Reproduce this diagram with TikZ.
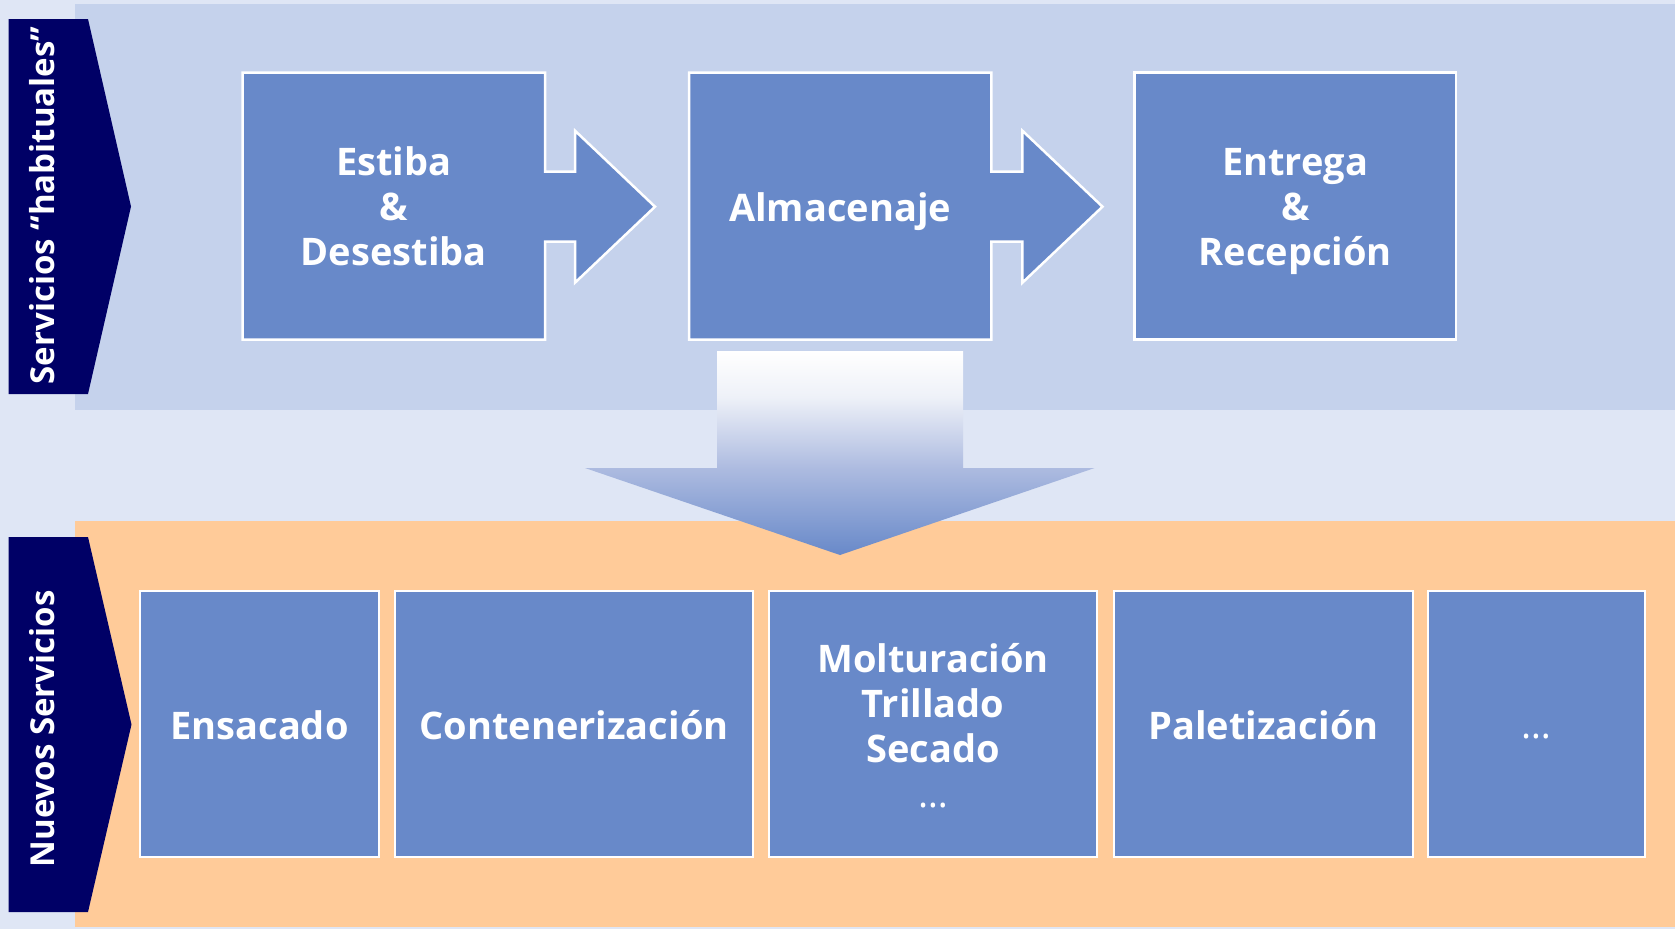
\documentclass[tikz,border=0pt]{standalone}
\usepackage{fontspec}
\setmainfont{Open Sans}
\definecolor{bgc}{RGB}{223,230,245}
\definecolor{bandc}{RGB}{197,210,236}
\definecolor{orangec}{RGB}{255,203,153}
\definecolor{navyc}{RGB}{0,0,102}
\definecolor{boxc}{RGB}{104,137,201}
\definecolor{shA}{RGB}{173,187,224}
\definecolor{shB}{RGB}{238,241,248}
\pgfdeclareverticalshading{downshade}{100bp}{color(0bp)=(boxc); color(25bp)=(boxc); color(46.3bp)=(shA); color(63.7bp)=(shB); color(75bp)=(white); color(100bp)=(white)}
\tikzset{
  boxshape/.style={fill=boxc, draw=white, line width=2.5pt, line join=miter},
  boxnode/.style={rectangle, fill=boxc, draw=white, line width=2.5pt, inner sep=0pt, outer sep=0pt},
  boxtext/.style={text=white, font=\fontsize{38}{45}\selectfont\bfseries, anchor=base, inner sep=0pt},
  dotstext/.style={text=white, font=\fontsize{38}{45}\selectfont, anchor=base, inner sep=0pt},
  sidetext/.style={text=white, font=\fontsize{33}{40}\selectfont\bfseries, rotate=90, anchor=base, inner sep=0pt},
  sidetag/.style={fill=navyc},
}
\begin{document}
\begin{tikzpicture}[x=1pt,y=-1pt]
\useasboundingbox (0,0) rectangle (1675,929);
\fill[bgc] (0,0) rectangle (1675,929);
% bands
\fill[bandc] (75,4) rectangle (1675,410);
\fill[orangec] (75,521) rectangle (1675,927);
% side tags
\fill[sidetag] (8.5,19) -- (88,19) -- (131,206.5) -- (88,394) -- (8.5,394) -- cycle;
\fill[sidetag] (8.5,537) -- (88,537) -- (131.5,724.5) -- (88,912) -- (8.5,912) -- cycle;
\node[sidetext] (tagA) at (54.5,205.5) {Servicios “habituales”};
\node[sidetext] (tagB) at (54,729) {Nuevos Servicios};
% top row
\draw[boxshape] (242.5,72.6) -- (545,72.6) -- (545,171.7) -- (575,171.7) -- (575,130.7) -- (655,206.7) -- (575,282.7) -- (575,241.7) -- (545,241.7) -- (545,339.7) -- (242.5,339.7) -- cycle;
\draw[boxshape] (689,72.6) -- (991.4,72.6) -- (991.4,171.7) -- (1022.4,171.7) -- (1022.4,130.7) -- (1102.5,206.7) -- (1022.4,282.7) -- (1022.4,241.7) -- (991.4,241.7) -- (991.4,339.7) -- (689,339.7) -- cycle;
\node[boxnode, minimum width=321.5pt, minimum height=267pt] (entrega) at (1295.25,206.15) {};
\node[boxtext] (e1) at (393.75,175.7) {Estiba};
\node[boxtext] (e2) at (393.75,220.5) {\&};
\node[boxtext] (e3) at (393.75,265.7) {Desestiba};
\node[boxtext] (alm) at (840.2,221) {Almacenaje};
\node[boxtext] (r1) at (1295.25,175.7) {Entrega};
\node[boxtext] (r2) at (1295.25,220.5) {\&};
\node[boxtext] (r3) at (1295.25,265.7) {Recepción};
% big arrow
\path[shading=downshade] (717,351) -- (963,351) -- (963,468) -- (1094.6,468) -- (840,555) -- (585,468) -- (717,468) -- cycle;
% bottom row
\node[boxnode, minimum width=239pt, minimum height=266pt] (ens) at (259.5,724) {};
\node[boxnode, minimum width=358pt, minimum height=266pt] (cont) at (574,724) {};
\node[boxnode, minimum width=328pt, minimum height=266pt] (mol) at (933,724) {};
\node[boxnode, minimum width=299pt, minimum height=266pt] (pal) at (1263.5,724) {};
\node[boxnode, minimum width=217pt, minimum height=266pt] (etc) at (1536.5,724) {};
\node[boxtext] (t1) at (259.5,739) {Ensacado};
\node[boxtext] (t2) at (574,739) {Contenerización};
\node[boxtext] (m1) at (933,672) {Molturación};
\node[boxtext] (m2) at (933,717) {Trillado};
\node[boxtext] (m3) at (933,762) {Secado};
\node[dotstext] (m4) at (933,807) {…};
\node[boxtext] (t4) at (1263.5,739) {Paletización};
\node[dotstext] (t5) at (1536.5,738) {…};
\end{tikzpicture}
\end{document}
